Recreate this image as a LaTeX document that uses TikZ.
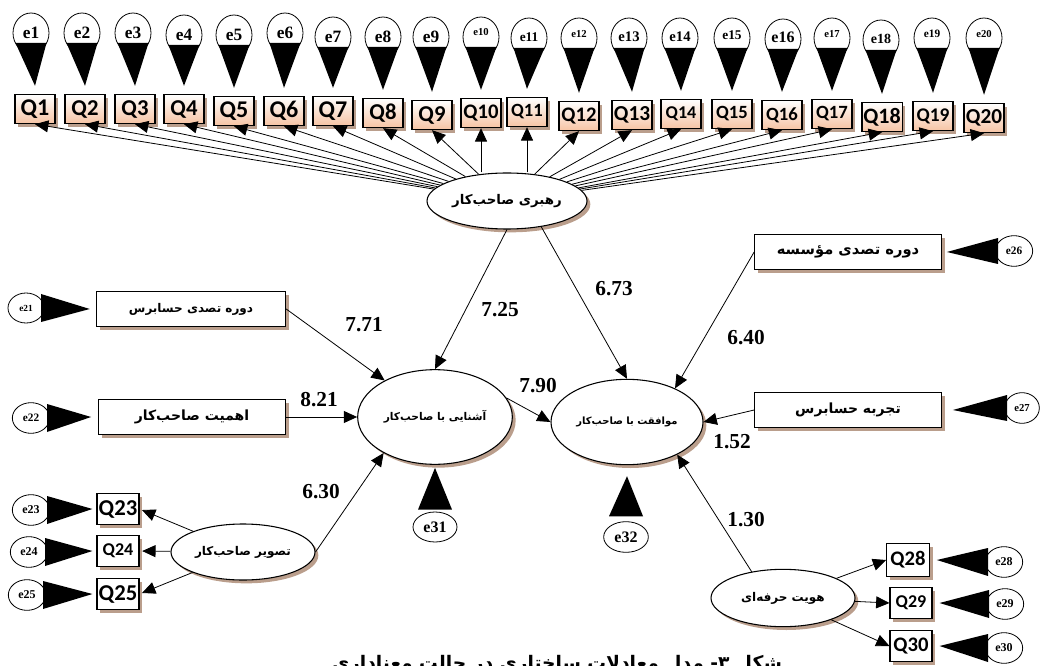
\documentclass[tikz,border=0pt]{standalone}
\usepackage{fontspec}
\setmainfont{Liberation Serif}
\newfontfamily\qf{Carlito}
\newfontfamily\fa[Script=Arabic]{DejaVu Sans}
\TeXXeTstate=1
\usetikzlibrary{arrows.meta,shapes.geometric,shadows,calc}
\definecolor{peach}{RGB}{246,196,164}
\definecolor{shd}{RGB}{186,158,140}
\newcommand{\fatext}[2]{{\fa\bfseries\fontsize{#1}{#1}\selectfont\beginR #2\endR}}
\begin{document}
\begin{tikzpicture}[x=0.75pt,y=-0.75pt,
  shadowed/.style={drop shadow={shadow xshift=2.5pt,shadow yshift=-2.5pt,opacity=1,fill=shd}},
  qbox/.style={draw,line width=0.8pt,top color=white,bottom color=peach,minimum width=30pt,minimum height=22pt,inner sep=1pt,shadowed},
  wbox/.style={draw,line width=0.8pt,fill=white,minimum width=31.5pt,minimum height=23.5pt,inner sep=1pt,shadowed},
  tbox/.style={draw,line width=0.8pt,fill=white,minimum width=140pt,minimum height=26pt,shadowed},
  lat/.style={ellipse,draw,line width=0.8pt,fill=white,shadowed,inner sep=0pt},
  err/.style={ellipse,draw,line width=0.6pt,fill=white,minimum width=27pt,minimum height=30pt,inner sep=0pt},
  serr/.style={ellipse,draw,line width=0.6pt,fill=white,minimum width=28pt,minimum height=23pt,inner sep=0pt},
  path/.style={line width=0.6pt,-{Triangle[length=10pt,width=9pt]}},
  coef/.style={font=\bfseries\fontsize{16}{16}\selectfont,inner sep=0pt}]
\useasboundingbox (0,0) rectangle (1041,666);

% latent variables
\node[lat,minimum width=120pt,minimum height=42pt] (rah) at (507,201) {\fatext{10}{رهبری صاحب‌کار}};
\node[lat,minimum width=116pt,minimum height=71pt] (ash) at (435,417) {\fatext{8}{آشنایی با صاحب‌کار}};
\node[lat,minimum width=114pt,minimum height=64pt] (mov) at (627,422) {\fatext{7.5}{موافقت با صاحب‌کار}};
\node[lat,minimum width=108pt,minimum height=42pt] (tas) at (243,552) {\fatext{9}{تصویر صاحب‌کار}};
\node[lat,minimum width=108pt,minimum height=43pt] (herf) at (783,598) {\fatext{9}{هویت حرفه‌ای}};

% top indicators and their errors
\foreach \i/\ex/\ey/\es/\er/\qx/\qy/\qs in {
 1/31/33/13/0/35/109/18, 2/82/33/13/0/85/109/17, 3/133/33/13/0/135/109/17,
 4/184/35/13/0/184/109/17, 5/234/35/13/0/234/111/18, 6/285/33/13/0/284/111/18,
 7/333/37/13/0/333/111/18, 8/383/37/13/0/383/113/17, 9/431/37/13/0/432/115/17,
 10/481/37/8/7/481/113/15.5, 11/529/38/10/2/527/112/14, 12/579/38/8/6/579/116/15.5,
 13/629/38/11/2/632/115/16, 14/680/38/11/2/681/114/13.5, 15/732/38/10/4/732/114/14,
 16/783/39/12/2/782/115/14, 17/832/38/8/6/832/114/14, 18/881/40/10.5/2/882/117/16.5,
 19/932/38/8.5/6/933/116/14.5, 20/984/38/8/6/984/118/16}{
  \node[qbox,font=\qf\bfseries\fontsize{\qs}{\qs}\selectfont] (Q\i) at (\qx,\qy) {Q\i};
  \node[err,font=\bfseries\fontsize{\es}{\es}\selectfont] (e\i) at (\ex,\ey) {\raisebox{\er pt}{e\i}};
  \fill ($(e\i.center)+(-15.5,10)$) -- ($(e\i.center)+(15.5,10)$) -- ($(Q\i.north)+(0,-8)$) -- cycle;
}
\foreach \i in {1,...,9,12,13,...,20}{
  \draw[path] (rah) -- (Q\i.south);
}
\draw[path] (rah.north -| Q10.south) -- (Q10.south);
\draw[path] (rah.north -| Q11.south) -- (Q11.south);

% observed boxes
\node[tbox,minimum width=142pt] (b1) at (191,309) {\fatext{9}{دوره تصدی حسابرس}};
\node[tbox] (b2) at (192,417) {\fatext{10.5}{اهمیت صاحب‌کار}};
\node[tbox] (b3) at (848,252) {\fatext{11}{دوره تصدی مؤسسه}};
\node[tbox] (b4) at (848,410) {\fatext{10.5}{تجربه حسابرس}};

% side error terms
\node[serr,minimum width=27pt,minimum height=22.5pt,font=\bfseries\fontsize{7}{7}\selectfont] (e21) at (26,308) {e21};
\node[serr,font=\bfseries\fontsize{8.5}{8.5}\selectfont] (e22) at (31,418) {e22};
\node[serr,font=\bfseries\fontsize{8.5}{8.5}\selectfont] (e26) at (1014,251) {e26};
\node[serr,minimum width=26pt,font=\bfseries\fontsize{8}{8}\selectfont] (e27) at (1022,408) {e27};
\fill ($(e21.center)+(15,-14)$) -- ($(e21.center)+(15,14)$) -- ($(b1.west)+(-6,0)$) -- cycle;
\fill ($(e22.center)+(16,-14)$) -- ($(e22.center)+(16,14)$) -- ($(b2.west)+(-7,0)$) -- cycle;
\fill ($(e26.center)+(-16,-13)$) -- ($(e26.center)+(-16,13)$) -- ($(b3.east)+(5,0)$) -- cycle;
\fill ($(e27.center)+(-15,-13)$) -- ($(e27.center)+(-15,13)$) -- ($(b4.east)+(11,0)$) -- cycle;

% tasvir indicators
\node[wbox,font=\qf\bfseries\fontsize{17}{17}\selectfont] (Q23) at (118,509) {Q23};
\node[wbox,font=\qf\bfseries\fontsize{13.5}{13.5}\selectfont] (Q24) at (118,551) {Q24};
\node[wbox,font=\qf\bfseries\fontsize{17}{17}\selectfont] (Q25) at (118,594) {Q25};
\node[serr,font=\bfseries\fontsize{9}{9}\selectfont] (e23) at (31,510) {e23};
\node[serr,font=\bfseries\fontsize{9}{9}\selectfont] (e24) at (29,552) {e24};
\node[serr,font=\bfseries\fontsize{9}{9}\selectfont] (e25) at (27,595) {e25};
\foreach \i in {23,24,25}{
  \fill ($(e\i.center)+(16,-14)$) -- ($(e\i.center)+(16,14)$) -- ($(Q\i.west)+(-4,0)$) -- cycle;
  \draw[path,shorten >=2pt] (tas) -- (Q\i.east);
}

% herfe indicators
\node[wbox,minimum width=32pt,minimum height=25pt,font=\qf\bfseries\fontsize{15.5}{15.5}\selectfont] (Q28) at (908,560) {Q28};
\node[wbox,font=\qf\bfseries\fontsize{13.5}{13.5}\selectfont] (Q29) at (911,603) {Q29};
\node[wbox,font=\qf\bfseries\fontsize{15.5}{15.5}\selectfont] (Q30) at (911,646) {Q30};
\node[serr,font=\bfseries\fontsize{9}{9}\selectfont] (e28) at (1004,562) {e28};
\node[serr,font=\bfseries\fontsize{9}{9}\selectfont] (e29) at (1005,604) {e29};
\node[serr,font=\bfseries\fontsize{9}{9}\selectfont] (e30) at (1004,648) {e30};
\foreach \i in {28,29,30}{
  \fill ($(e\i.center)+(-16,-14)$) -- ($(e\i.center)+(-16,14)$) -- ($(Q\i.east)+(7,0)$) -- cycle;
  \draw[path] (herf) -- (Q\i.west);
}

% structural errors
\node[serr,minimum width=33pt,minimum height=22.5pt,font=\bfseries\fontsize{12}{12}\selectfont] (e31) at (435,527) {e31};
\node[serr,minimum width=33.5pt,minimum height=23pt,font=\bfseries\fontsize{12}{12}\selectfont] (e32) at (626,537) {e32};
\fill ($(e31.north)+(-17,-2)$) -- ($(e31.north)+(17,-2)$) -- ($(ash.south)+(0,3)$) -- cycle;
\fill ($(e32.north)+(-17,-5)$) -- ($(e32.north)+(17,-5)$) -- ($(mov.south)+(0,11)$) -- cycle;

% structural paths
\draw[path] (b1.east) -- (ash);
\draw[path] (b2.east) -- (ash.west);
\draw[path] (rah.south) -- (ash.north);
\draw[path] (rah.-37) -- (mov.north);
\draw[path] (ash.15) -- (mov.west);
\draw[path] (tas.east) -- (ash.-145);
\draw[path] (b3.west) -- (mov.35);
\draw[path] (b4.west) -- (mov.east);
\draw[path] (herf.140) -- (mov.-33);

% coefficients
\node[coef] (c1) at (364,325) {7.71};
\node[coef] (c2) at (319,400) {8.21};
\node[coef] (c3) at (500,310) {7.25};
\node[coef] (c4) at (614,289) {6.73};
\node[coef] (c5) at (538,386) {7.90};
\node[coef] (c6) at (746,338) {6.40};
\node[coef] (c7) at (732,442) {1.52};
\node[coef] (c8) at (321,492) {6.30};
\node[coef] (c9) at (746,520) {1.30};

% caption (cut off at the bottom edge, as in the reference)
\node[anchor=north,inner sep=0pt] (cap) at (557,655) {\fatext{14}{شکل ۳- مدل معادلات ساختاری در حالت معناداری}};
\end{tikzpicture}
\end{document}
